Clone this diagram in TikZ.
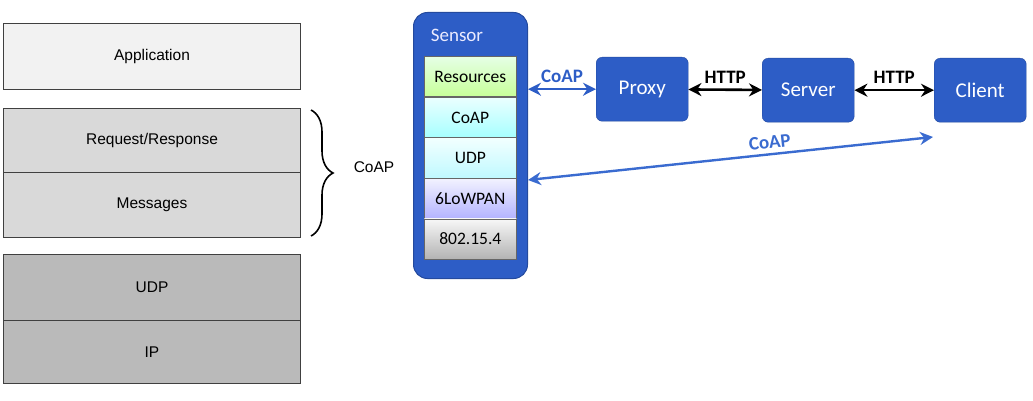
\documentclass[tikz,border=0pt]{standalone}
\usepackage{fontspec}
\setmainfont{Liberation Sans}
\newfontfamily\carl{Carlito}
\usetikzlibrary{decorations.pathreplacing,arrows.meta}
\definecolor{bl}{HTML}{2D5DC6}
\definecolor{bla}{HTML}{3A6BD0}
\begin{document}
\begin{tikzpicture}[x=1pt,y=-1pt,
 lay/.style={draw=black!75,line width=1pt,minimum width=297pt,anchor=north west,font=\fontsize{15.5}{18}\selectfont},
 stk/.style={draw=black!60,line width=0.6pt,minimum width=92pt,minimum height=40.5pt,anchor=north west,font=\carl\fontsize{17.5}{20}\selectfont},
 dev/.style={fill=bl,draw=bl!80!black,rounded corners=6pt,minimum width=92pt,minimum height=64pt,anchor=north west,text=white,font=\carl\fontsize{21}{23}\selectfont},
 ba/.style={{Stealth[length=13pt,width=13pt]}-{Stealth[length=13pt,width=13pt]},line width=2.6pt},
 lbl/.style={font=\carl\bfseries\fontsize{19}{21}\selectfont}]
\useasboundingbox (0,0) rectangle (1033,401);
\node[lay,fill=black!5,minimum height=66pt] (app) at (3,23) {Application};
\node[lay,fill=black!15,minimum height=64pt] (rr) at (3,108) {Request/Response};
\node[lay,fill=black!15,minimum height=65pt] (msg) at (3,172) {Messages};
\node[lay,fill=black!27,minimum height=66pt] (udp) at (3,254) {UDP};
\node[lay,fill=black!27,minimum height=63pt] (ip) at (3,320) {IP};
\draw[decorate,decoration={brace,amplitude=22pt},line width=1.6pt] (311,110) -- (311,236);
\node[font=\fontsize{15.5}{18}\selectfont] (c1) at (374,167) {CoAP};
\node[fill=bl,draw=bl!80!black,line width=1pt,rounded corners=14pt,minimum width=114pt,minimum height=266pt,anchor=north west] (sen) at (413,12) {};
\node[text=blue!8,font=\carl\fontsize{19}{22}\selectfont] (sl) at (457,35) {Sensor};
\node[stk,top color=green!10,bottom color=green!40!lime!40] (res) at (424,56) {Resources};
\node[stk,top color=cyan!8,bottom color=cyan!35] (coap) at (424,97) {CoAP};
\node[stk,top color=cyan!5,bottom color=blue!10!cyan!25] (u) at (424,137.5) {UDP};
\node[stk,top color=blue!5,bottom color=blue!30] (low) at (424,178) {6LoWPAN};
\node[stk,top color=black!3,bottom color=black!30] (ieee) at (424,218.5) {802.15.4};
\node[dev] (proxy) at (596,57) {Proxy};
\node[dev] (server) at (762,58) {Server};
\node[dev] (client) at (934,58) {Client};
\draw[ba,bl] (sen.east|-proxy) -- node[above=2pt,lbl,text=bl]{CoAP} (proxy);
\draw[ba,black] (proxy) -- node[above=2pt,lbl]{HTTP} (server);
\draw[ba,black] (server) -- node[above=2pt,lbl]{HTTP} (client);
\coordinate (ce) at (933,137);
\coordinate (se) at (528,180);
\draw[ba,bla,line width=2.4pt] (se) -- node[pos=0.6,above=1pt,sloped,lbl,text=bla]{CoAP} (ce);
\end{tikzpicture}
\end{document}
